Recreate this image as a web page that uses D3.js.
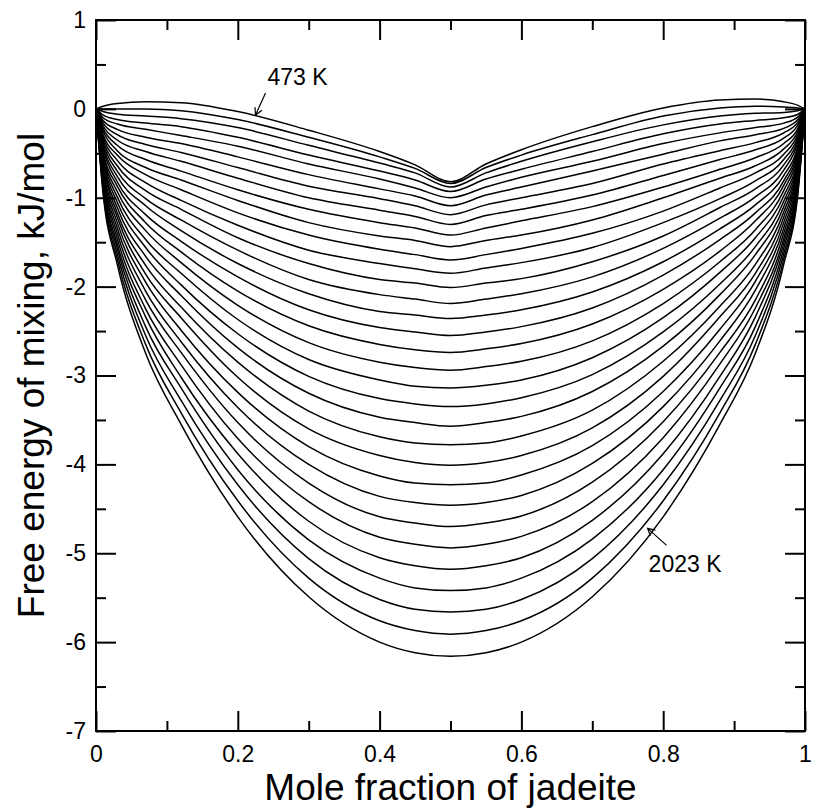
<!DOCTYPE html>
<html>
<head>
<meta charset="utf-8">
<script src="https://cdnjs.cloudflare.com/ajax/libs/d3/7.8.5/d3.min.js"></script>
<style>
body { margin: 0; background: #fff; }
svg text { font-family: "Liberation Sans", Arial, Helvetica, sans-serif; fill: #000; }
.axis path { display: none; }
.axis line { stroke: #000; stroke-width: 2; }
.curve { fill: none; stroke: #000; stroke-width: 1.5; stroke-linejoin: round; }
</style>
</head>
<body>
<script>
var margin = {top: 20, right: 11, bottom: 81, left: 96},
    w = 816 - margin.left - margin.right,
    h = 812 - margin.top - margin.bottom;

/* temperatures of the curves, K (top curve first) */
var temps = [473, 523, 573, 623, 673, 723, 773, 823, 873, 923, 973, 1023, 1073, 1123, 1173, 1223,
             1273, 1323, 1373, 1423, 1473, 1523, 1573, 1623, 1673, 1723, 1773, 1823, 1873, 1923, 1973, 2023];

/* mole fraction of jadeite where the curves were read (end members are 0) */
var xFrac = [0.01, 0.03, 0.07, 0.12, 0.2, 0.3, 0.4, 0.45, 0.5, 0.55, 0.6, 0.7, 0.8, 0.88, 0.93, 0.97, 0.99];
var gEnd = 0;

/* free energy of mixing (kJ/mol) at each mole fraction, one value per temperature */
var g01 = [0.03,0.00,-0.03,-0.07,-0.10,-0.13,-0.16,-0.19,-0.22,-0.25,-0.29,-0.32,-0.35,-0.38,-0.41,-0.44,-0.48,-0.51,-0.54,-0.57,-0.60,-0.63,-0.67,-0.70,-0.73,-0.76,-0.79,-0.82,-0.86,-0.89,-0.92,-0.95];
var g03 = [0.06,0.00,-0.06,-0.12,-0.17,-0.23,-0.29,-0.35,-0.41,-0.47,-0.52,-0.58,-0.64,-0.70,-0.76,-0.82,-0.87,-0.93,-0.99,-1.05,-1.11,-1.17,-1.22,-1.28,-1.34,-1.40,-1.46,-1.52,-1.57,-1.63,-1.69,-1.75];
var g07 = [0.08,0.00,-0.08,-0.16,-0.23,-0.32,-0.40,-0.48,-0.57,-0.66,-0.74,-0.83,-0.92,-1.01,-1.09,-1.19,-1.28,-1.37,-1.47,-1.56,-1.66,-1.76,-1.86,-1.95,-2.05,-2.15,-2.25,-2.34,-2.45,-2.55,-2.65,-2.75];
var g12 = [0.07,-0.02,-0.11,-0.20,-0.30,-0.39,-0.49,-0.59,-0.70,-0.80,-0.91,-1.03,-1.13,-1.25,-1.37,-1.49,-1.61,-1.73,-1.85,-1.98,-2.10,-2.23,-2.35,-2.49,-2.62,-2.74,-2.88,-3.02,-3.14,-3.28,-3.42,-3.55];
var g20 = [-0.03,-0.12,-0.21,-0.32,-0.42,-0.54,-0.66,-0.78,-0.91,-1.03,-1.17,-1.31,-1.45,-1.59,-1.74,-1.89,-2.05,-2.21,-2.37,-2.53,-2.69,-2.85,-3.02,-3.19,-3.36,-3.53,-3.71,-3.88,-4.06,-4.23,-4.41,-4.59];
var g30 = [-0.24,-0.32,-0.41,-0.52,-0.62,-0.74,-0.87,-1.00,-1.13,-1.28,-1.42,-1.59,-1.74,-1.92,-2.08,-2.26,-2.44,-2.63,-2.82,-3.01,-3.20,-3.40,-3.60,-3.80,-4.00,-4.21,-4.42,-4.64,-4.85,-5.06,-5.28,-5.49];
var g40 = [-0.48,-0.54,-0.61,-0.70,-0.79,-0.90,-1.01,-1.14,-1.28,-1.43,-1.58,-1.74,-1.92,-2.09,-2.28,-2.46,-2.65,-2.85,-3.05,-3.26,-3.47,-3.69,-3.90,-4.13,-4.36,-4.59,-4.82,-5.05,-5.28,-5.52,-5.76,-6.00];
var g45 = [-0.63,-0.67,-0.72,-0.80,-0.89,-0.98,-1.09,-1.21,-1.34,-1.48,-1.64,-1.80,-1.96,-2.14,-2.32,-2.51,-2.71,-2.91,-3.12,-3.32,-3.53,-3.76,-3.98,-4.21,-4.43,-4.66,-4.90,-5.14,-5.39,-5.63,-5.87,-6.12];
var g50 = [-0.82,-0.84,-0.88,-0.93,-1.00,-1.09,-1.19,-1.30,-1.42,-1.55,-1.70,-1.85,-2.01,-2.19,-2.36,-2.55,-2.74,-2.94,-3.14,-3.35,-3.57,-3.78,-4.01,-4.23,-4.46,-4.70,-4.94,-5.18,-5.42,-5.66,-5.91,-6.16];
var g55 = [-0.62,-0.66,-0.72,-0.79,-0.88,-0.97,-1.08,-1.20,-1.34,-1.48,-1.64,-1.79,-1.96,-2.14,-2.32,-2.51,-2.70,-2.90,-3.11,-3.32,-3.53,-3.76,-3.98,-4.21,-4.43,-4.66,-4.90,-5.14,-5.39,-5.63,-5.87,-6.12];
var g60 = [-0.46,-0.52,-0.59,-0.68,-0.77,-0.88,-1.00,-1.13,-1.26,-1.42,-1.57,-1.73,-1.91,-2.08,-2.26,-2.45,-2.64,-2.84,-3.05,-3.25,-3.46,-3.68,-3.90,-4.12,-4.35,-4.58,-4.81,-5.05,-5.28,-5.52,-5.76,-6.00];
var g70 = [-0.20,-0.29,-0.37,-0.48,-0.59,-0.70,-0.84,-0.97,-1.10,-1.25,-1.40,-1.56,-1.72,-1.89,-2.06,-2.24,-2.42,-2.61,-2.80,-2.99,-3.18,-3.39,-3.59,-3.79,-3.99,-4.20,-4.42,-4.63,-4.84,-5.06,-5.28,-5.49];
var g80 = [0.01,-0.08,-0.18,-0.28,-0.39,-0.51,-0.62,-0.75,-0.88,-1.00,-1.15,-1.28,-1.43,-1.57,-1.72,-1.87,-2.03,-2.19,-2.35,-2.51,-2.67,-2.84,-3.01,-3.18,-3.35,-3.52,-3.70,-3.88,-4.06,-4.23,-4.41,-4.59];
var g88 = [0.10,0.01,-0.08,-0.17,-0.27,-0.36,-0.47,-0.57,-0.68,-0.78,-0.89,-1.01,-1.11,-1.23,-1.35,-1.47,-1.60,-1.72,-1.84,-1.97,-2.09,-2.22,-2.34,-2.48,-2.61,-2.74,-2.87,-3.01,-3.14,-3.28,-3.42,-3.55];
var g93 = [0.11,0.03,-0.05,-0.13,-0.21,-0.29,-0.38,-0.46,-0.55,-0.64,-0.72,-0.81,-0.90,-0.99,-1.08,-1.17,-1.26,-1.36,-1.45,-1.55,-1.64,-1.75,-1.85,-1.94,-2.04,-2.15,-2.24,-2.34,-2.45,-2.55,-2.65,-2.75];
var g97 = [0.08,0.02,-0.04,-0.10,-0.16,-0.22,-0.27,-0.33,-0.39,-0.45,-0.51,-0.57,-0.63,-0.69,-0.75,-0.81,-0.86,-0.92,-0.98,-1.04,-1.10,-1.16,-1.22,-1.28,-1.34,-1.40,-1.46,-1.51,-1.57,-1.63,-1.69,-1.75];
var g99 = [0.04,0.01,-0.02,-0.06,-0.09,-0.12,-0.15,-0.18,-0.22,-0.25,-0.28,-0.31,-0.34,-0.37,-0.41,-0.44,-0.47,-0.50,-0.54,-0.57,-0.60,-0.63,-0.66,-0.69,-0.73,-0.76,-0.79,-0.82,-0.85,-0.89,-0.92,-0.95];
var gCols = [g01, g03, g07, g12, g20, g30, g40, g45, g50, g55, g60, g70, g80, g88, g93, g97, g99];

/* ticks */
var xMajor = [0, 0.2, 0.4, 0.6, 0.8, 1],
    xMinor = [0.1, 0.3, 0.5, 0.7, 0.9];
var yMajor = [1, 0, -1, -2, -3, -4, -5, -6, -7],
    yMinor = [0.5, -0.5, -1.5, -2.5, -3.5, -4.5, -5.5, -6.5];

/* labelled curves: temperature index, arrow tip (x, G) */
var notes = [
  {t: 0,  x: 0.225, g: -0.07, tail: [10, -22], text: [12, -30]},
  {t: 31, x: 0.778, g: -4.72, tail: [19, 17],   text: [1, 44]}
];

function drawChart() {
	var svg = d3.select("body")
				.append("svg")
				.attr("width", w + margin.left + margin.right)
				.attr("height", h + margin.top + margin.bottom)
				.append("g")
				.attr("transform", "translate(" + margin.left + "," + margin.top + ")");

	/*Scales*/
	var xScale = d3.scaleLinear().domain([0, 1]).range([0, w]);
	var yScale = d3.scaleLinear().domain([-7, 1]).range([h, 0]);

	/*Curves: one series per temperature*/
	var series = temps.map(function(T, k) {
		var pts = [[0, gEnd]];
		xFrac.forEach(function(x, i) { pts.push([x, gCols[i][k]]); });
		pts.push([1, gEnd]);
		return {T: T, pts: pts};
	});

	var line = d3.line()
				.x(function(d) { return xScale(d[0]); })
				.y(function(d) { return yScale(d[1]); })
				.curve(d3.curveMonotoneX);

	svg.selectAll(".curve")
		.data(series)
		.enter()
		.append("path")
		.attr("class", "curve")
		.attr("d", function(d) { return line(d.pts); });

	/*Axes: ticks inside on all four sides*/
	var fmt = function(d) { return String(d); };
	function ticks(gen, vals, len, pad) {
		return gen.tickValues(vals).tickSizeInner(-len).tickSizeOuter(0)
				.tickPadding(pad || 0)
				.tickFormat(pad ? fmt : "");
	}
	svg.append("g").attr("class", "axis").attr("transform", "translate(0," + h + ")")
		.call(ticks(d3.axisBottom(xScale), xMajor, 20, 15));
	svg.append("g").attr("class", "axis").attr("transform", "translate(0," + h + ")")
		.call(ticks(d3.axisBottom(xScale), xMinor, 10));
	svg.append("g").attr("class", "axis")
		.call(ticks(d3.axisTop(xScale), xMajor, 20));
	svg.append("g").attr("class", "axis")
		.call(ticks(d3.axisTop(xScale), xMinor, 10));
	svg.append("g").attr("class", "axis")
		.call(ticks(d3.axisLeft(yScale), yMajor, 20, 10));
	svg.append("g").attr("class", "axis")
		.call(ticks(d3.axisLeft(yScale), yMinor, 10));
	svg.append("g").attr("class", "axis").attr("transform", "translate(" + w + ",0)")
		.call(ticks(d3.axisRight(yScale), yMajor, 20));
	svg.append("g").attr("class", "axis").attr("transform", "translate(" + w + ",0)")
		.call(ticks(d3.axisRight(yScale), yMinor, 10));
	svg.selectAll(".axis text").style("font-size", "23px");

	/*Frame*/
	svg.append("rect")
		.attr("width", w).attr("height", h)
		.attr("fill", "none").attr("stroke", "#000").attr("stroke-width", 2);

	/*Axis titles*/
	svg.append("text")
		.attr("x", w / 2).attr("y", h + 69)
		.attr("text-anchor", "middle")
		.style("font-size", "37px")
		.text("Mole fraction of jadeite");
	svg.append("text")
		.attr("transform", "translate(" + (44 - margin.left) + "," + (h / 2) + ") rotate(-90)")
		.attr("text-anchor", "middle")
		.style("font-size", "37px")
		.text("Free energy of mixing, kJ/mol");

	/*Temperature labels with arrows*/
	notes.forEach(function(n) {
		var tx = xScale(n.x), ty = yScale(n.g);
		var ex = tx + n.tail[0], ey = ty + n.tail[1];
		var ang = Math.atan2(ey - ty, ex - tx), a = 0.5, L = 8;
		svg.append("path")
			.attr("d", "M" + ex + "," + ey + "L" + tx + "," + ty +
				"M" + (tx + L * Math.cos(ang - a)) + "," + (ty + L * Math.sin(ang - a)) +
				"L" + tx + "," + ty +
				"L" + (tx + L * Math.cos(ang + a)) + "," + (ty + L * Math.sin(ang + a)))
			.attr("fill", "none").attr("stroke", "#000").attr("stroke-width", 1.2);
		svg.append("text")
			.attr("x", tx + n.text[0]).attr("y", ty + n.text[1])
			.style("font-size", "23px")
			.text(temps[n.t] + " K");
	});
}

drawChart();
</script>
</body>
</html>
